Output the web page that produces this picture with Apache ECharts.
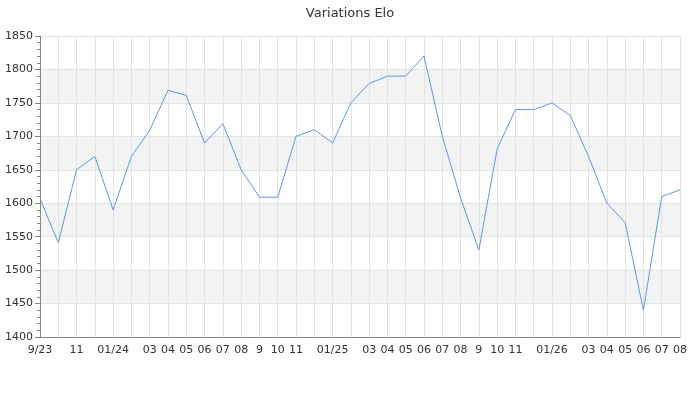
<!DOCTYPE html>
<html>
<head>
<meta charset="utf-8">
<script src="https://cdn.jsdelivr.net/npm/echarts@6/dist/echarts.min.js"></script>
<style>html,body{margin:0;padding:0;background:#fff}#c{width:700px;height:400px}</style>
</head>
<body>
<div id="c"></div>
<script>
var months = ['2023-09','2023-10','2023-11','2023-12','2024-01','2024-02','2024-03','2024-04','2024-05','2024-06','2024-07','2024-08','2024-09','2024-10','2024-11','2024-12','2025-01','2025-02','2025-03','2025-04','2025-05','2025-06','2025-07','2025-08','2025-09','2025-10','2025-11','2025-12','2026-01','2026-02','2026-03','2026-04','2026-05','2026-06','2026-07','2026-08'];
var tickLabels = ['9/23','','11','','01/24','','03','04','05','06','07','08','9','10','11','','01/25','','03','04','05','06','07','08','9','10','11','','01/26','','03','04','05','06','07','08'];
var elo = [1607,1541,1650,1670,1590,1670,1709,1769,1761,1690,1719,1650,1609,1609,1700,1710,1690,1750,1779,1790,1790,1820,1700,1608,1530,1681,1740,1740,1750,1731,1670,1600,1571,1440,1610,1620];
var titleText = 'Variations Elo';

var chart = echarts.init(document.getElementById('c'), null, {renderer:'canvas'});
chart.setOption({
  animation: false,
  backgroundColor: '#fff',
  title: {
    text: titleText, left: 'center', top: 2,
    textStyle: {fontFamily: 'DejaVu Sans', fontSize: 13, fontWeight: 'normal', color: '#333'}
  },
  grid: {left: 40, right: 20, top: 36, bottom: 63, containLabel: false, outerBoundsMode: 'none'},
  xAxis: {
    type: 'category', data: months, boundaryGap: false,
    axisLine: {lineStyle: {color: '#888', width: 1}},
    axisTick: {show: false},
    axisLabel: {
      interval: 0, margin: 8, color: '#333', fontFamily: 'DejaVu Sans', fontSize: 11,
      formatter: function (v, i) { return tickLabels[i]; }
    },
    splitLine: {show: true, interval: 0, lineStyle: {color: '#e3e3e3', width: 1}}
  },
  yAxis: {
    type: 'value', min: 1400, max: 1850, interval: 50,
    axisLine: {show: true, lineStyle: {color: '#888', width: 1}},
    axisTick: {show: true, length: 5, lineStyle: {color: '#888'}},
    minorTick: {show: true, splitNumber: 5, length: 3, lineStyle: {color: '#888'}},
    axisLabel: {margin: 7, color: '#333', fontFamily: 'DejaVu Sans', fontSize: 11,
      formatter: function (v) { return String(v); }},
    splitLine: {show: true, lineStyle: {color: '#e3e3e3', width: 1}},
    splitArea: {show: true, areaStyle: {color: ['#ffffff', '#f3f3f3']}}
  },
  series: [{
    type: 'line', data: elo, showSymbol: false, symbol: 'none',
    lineStyle: {color: '#6495ED', width: 1},
    itemStyle: {color: '#6495ED'}
  }]
});
</script>
</body>
</html>
